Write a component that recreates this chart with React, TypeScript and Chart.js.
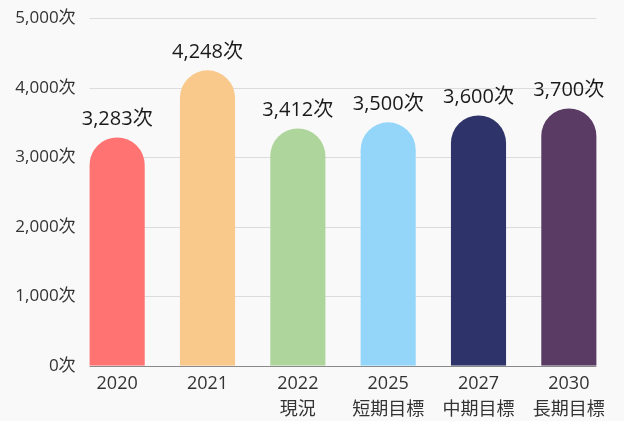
import React, { useEffect, useRef } from "react";
import { Chart, registerables } from "chart.js";

Chart.register(...registerables);

const categories: string[][] = [["2020"], ["2021"], ["2022", "現況"], ["2025", "短期目標"], ["2027", "中期目標"], ["2030", "長期目標"]];
const values: number[] = [3283, 4248, 3412, 3500, 3600, 3700];
const barColors: string[] = ["#FF7373", "#F8C98B", "#AED69C", "#94D6FA", "#2E336A", "#593B64"];
const yMax = 5000;
const yStep = 1000;
const unit = "次";

const FONT = '"Open Sans", "Noto Sans CJK JP", sans-serif';

function barExtent(chart: any) {
  const meta = chart.getDatasetMeta(0);
  const first = meta.data[0];
  const last = meta.data[meta.data.length - 1];
  return { left: first.x - first.width / 2, right: last.x + last.width / 2 };
}

// gridlines and y tick labels, spanning from the first bar's edge to the last bar's edge
const gridPlugin = {
  id: "barGrid",
  beforeDatasetsDraw(chart: any) {
    const ctx = chart.ctx;
    const y = chart.scales.y;
    const { left, right } = barExtent(chart);
    ctx.save();
    ctx.lineWidth = 1;
    ctx.font = `17px ${FONT}`;
    ctx.textAlign = "right";
    ctx.textBaseline = "middle";
    y.ticks.forEach((t: any) => {
      const py = Math.round(y.getPixelForValue(t.value)) + 0.5;
      ctx.strokeStyle = t.value === 0 ? "#8a8a8a" : "#dcdcdc";
      ctx.beginPath();
      ctx.moveTo(left, py);
      ctx.lineTo(right, py);
      ctx.stroke();
      ctx.fillStyle = "#333";
      ctx.fillText(Number(t.value).toLocaleString("en-US") + unit, left - 14, py);
    });
    ctx.restore();
  },
};

const valueLabelPlugin = {
  id: "valueLabels",
  afterDatasetsDraw(chart: any) {
    const ctx = chart.ctx;
    const meta = chart.getDatasetMeta(0);
    ctx.save();
    ctx.font = `20px ${FONT}`;
    ctx.fillStyle = "#1a1a1a";
    ctx.textAlign = "center";
    ctx.textBaseline = "middle";
    meta.data.forEach((bar: any, i: number) => {
      const text = values[i].toLocaleString("en-US") + unit;
      ctx.fillText(text, bar.x, bar.y - 18);
    });
    ctx.restore();
  },
};

export default function App() {
  const ref = useRef<HTMLCanvasElement>(null);
  useEffect(() => {
    document.body.style.margin = "0";
    const chart = new Chart(ref.current!, {
      type: "bar",
      data: {
        labels: categories,
        datasets: [
          {
            data: values,
            backgroundColor: barColors,
            borderRadius: { topLeft: 100, topRight: 100, bottomLeft: 0, bottomRight: 0 },
            borderSkipped: "bottom",
            barPercentage: 0.61,
            categoryPercentage: 1,
          },
        ],
      },
      options: {
        animation: false,
        responsive: false,
        devicePixelRatio: 1,
        layout: { padding: { top: 18, right: 10, left: 72, bottom: -7 } },
        plugins: { legend: { display: false }, tooltip: { enabled: false } },
        scales: {
          x: {
            grid: { display: false, drawTicks: false },
            border: { display: false },
            ticks: {
              color: "#333",
              font: { family: FONT, size: 18, lineHeight: 1.45 },
              padding: 5,
              maxRotation: 0,
            },
          },
          y: {
            min: 0,
            max: yMax,
            grid: { display: false, drawTicks: false },
            border: { display: false },
            ticks: { stepSize: yStep, display: false },
          },
        },
      },
      plugins: [gridPlugin, valueLabelPlugin],
    });
    return () => chart.destroy();
  }, []);
  return (
    <div style={{ width: 624, height: 421, background: "#F9F9F9" }}>
      <canvas ref={ref} width={624} height={421} style={{ display: "block" }} />
    </div>
  );
}
